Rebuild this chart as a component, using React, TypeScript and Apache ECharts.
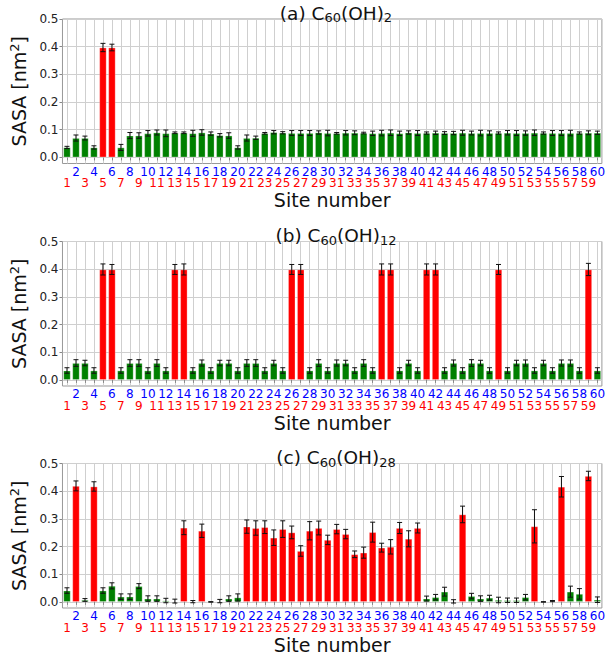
import React, { useEffect, useRef } from "react";
import * as echarts from "echarts";

// Site indices 1..60 for the fullerene carbon atoms
const sites: number[] = Array.from({ length: 60 }, (_, i) => i + 1);
const evenSites: number[] = sites.filter((s) => s % 2 === 0);
const oddSites: number[] = sites.filter((s) => s % 2 === 1);
const yTicks: number[] = [0, 0.1, 0.2, 0.3, 0.4, 0.5];

// (a) C60(OH)2
const sasaA: number[] = [
  0.036, 0.070, 0.070, 0.036, 0.397, 0.397, 0.036, 0.079, 0.079, 0.087,
  0.090, 0.087, 0.089, 0.089, 0.087, 0.090, 0.086, 0.080, 0.079, 0.036,
  0.070, 0.071, 0.087, 0.091, 0.089, 0.088, 0.088, 0.088, 0.090, 0.088,
  0.087, 0.089, 0.089, 0.088, 0.087, 0.088, 0.089, 0.087, 0.090, 0.088,
  0.088, 0.089, 0.088, 0.088, 0.089, 0.088, 0.088, 0.088, 0.088, 0.089,
  0.088, 0.088, 0.089, 0.088, 0.088, 0.088, 0.088, 0.088, 0.089, 0.089,
];
const errA: number[] = [
  0.004, 0.011, 0.007, 0.006, 0.015, 0.012, 0.011, 0.011, 0.010, 0.010,
  0.009, 0.012, 0.003, 0.003, 0.011, 0.010, 0.006, 0.006, 0.010, 0.006,
  0.011, 0.006, 0.003, 0.006, 0.004, 0.009, 0.009, 0.009, 0.006, 0.010,
  0.003, 0.008, 0.007, 0.003, 0.008, 0.010, 0.010, 0.008, 0.006, 0.009,
  0.004, 0.006, 0.005, 0.006, 0.009, 0.007, 0.010, 0.008, 0.004, 0.008,
  0.009, 0.008, 0.010, 0.004, 0.009, 0.009, 0.010, 0.004, 0.007, 0.006,
];
const ohSitesA: number[] = [5, 6];

// (b) C60(OH)12
const sasaB: number[] = [
  0.034, 0.061, 0.061, 0.034, 0.399, 0.399, 0.034, 0.061, 0.061, 0.034,
  0.061, 0.034, 0.399, 0.399, 0.034, 0.061, 0.034, 0.061, 0.061, 0.034,
  0.061, 0.061, 0.034, 0.061, 0.034, 0.399, 0.399, 0.034, 0.061, 0.034,
  0.061, 0.061, 0.034, 0.061, 0.034, 0.399, 0.399, 0.034, 0.061, 0.034,
  0.399, 0.399, 0.034, 0.061, 0.034, 0.061, 0.061, 0.034, 0.399, 0.034,
  0.061, 0.061, 0.034, 0.061, 0.034, 0.061, 0.061, 0.034, 0.399, 0.034,
];
const errB: number[] = [
  0.010, 0.012, 0.010, 0.010, 0.020, 0.018, 0.010, 0.012, 0.012, 0.010,
  0.012, 0.010, 0.018, 0.020, 0.010, 0.011, 0.010, 0.010, 0.010, 0.010,
  0.012, 0.012, 0.010, 0.010, 0.010, 0.018, 0.018, 0.010, 0.012, 0.010,
  0.011, 0.010, 0.010, 0.012, 0.010, 0.020, 0.020, 0.010, 0.010, 0.010,
  0.020, 0.020, 0.010, 0.011, 0.010, 0.012, 0.010, 0.010, 0.018, 0.010,
  0.010, 0.011, 0.010, 0.010, 0.010, 0.011, 0.011, 0.010, 0.022, 0.010,
];
const ohSitesB: number[] = [5, 6, 13, 14, 26, 27, 36, 37, 41, 42, 49, 59];

// (c) C60(OH)28
const sasaC: number[] = [
  0.041, 0.419, 0.007, 0.417, 0.041, 0.058, 0.019, 0.019, 0.057, 0.012,
  0.012, 0.005, 0.003, 0.268, 0.001, 0.257, 0.000, 0.003, 0.012, 0.016,
  0.272, 0.267, 0.270, 0.232, 0.263, 0.251, 0.184, 0.257, 0.267, 0.224,
  0.263, 0.245, 0.172, 0.178, 0.252, 0.196, 0.199, 0.267, 0.228, 0.267,
  0.012, 0.017, 0.037, 0.002, 0.316, 0.021, 0.012, 0.015, 0.007, 0.006,
  0.006, 0.017, 0.273, 0.000, 0.003, 0.416, 0.037, 0.029, 0.455, 0.008,
];
const errC: number[] = [
  0.010, 0.018, 0.005, 0.017, 0.010, 0.011, 0.010, 0.010, 0.009, 0.010,
  0.010, 0.008, 0.007, 0.025, 0.004, 0.024, 0.001, 0.006, 0.010, 0.013,
  0.024, 0.026, 0.023, 0.028, 0.030, 0.023, 0.019, 0.033, 0.025, 0.017,
  0.017, 0.017, 0.012, 0.020, 0.036, 0.016, 0.026, 0.020, 0.029, 0.018,
  0.009, 0.010, 0.016, 0.006, 0.030, 0.010, 0.010, 0.009, 0.010, 0.008,
  0.008, 0.010, 0.060, 0.001, 0.002, 0.037, 0.020, 0.019, 0.017, 0.010,
];
const ohSitesC: number[] = [
  2, 4, 14, 16, 21, 22, 23, 24, 25, 26, 27, 28, 29, 30, 31, 32, 33, 34, 35,
  36, 37, 38, 39, 40, 45, 53, 56, 59,
];

const panels = [
  { tag: "(a)", n: "2", sasa: sasaA, err: errA, oh: ohSitesA },
  { tag: "(b)", n: "12", sasa: sasaB, err: errB, oh: ohSitesB },
  { tag: "(c)", n: "28", sasa: sasaC, err: errC, oh: ohSitesC },
];

const FONT = "DejaVu Sans";
const RED = "#ff0000";
const BLUE = "#0000ff";
const GREEN = "#008000";
const GRID_TOPS = [19, 241.5, 463.5];
const GRID_H = 144.5;

export default function App() {
  const ref = useRef<HTMLDivElement>(null);

  useEffect(() => {
    document.body.style.margin = "0";
    if (!ref.current) return;
    const chart = echarts.init(ref.current, null, { renderer: "svg" });

    const grid: any[] = [];
    const xAxis: any[] = [];
    const yAxis: any[] = [];
    const series: any[] = [];
    const title: any[] = [];

    panels.forEach((p, k) => {
      grid.push({
        left: 57.5,
        right: 4,
        top: GRID_TOPS[k],
        height: GRID_H,
        show: true,
        borderColor: "#999",
        borderWidth: 1,
      });
      title.push({
        text: `${p.tag} C{s|60}(OH){s|${p.n}}`,
        left: 331,
        top: GRID_TOPS[k] - 22,
        textAlign: "center",
        textStyle: {
          fontFamily: FONT,
          fontSize: 18.5,
          fontWeight: "normal",
          color: "#111",
          rich: {
            s: {
              fontFamily: FONT,
              fontSize: 13,
              color: "#111",
              padding: [9, 0, 0, 0],
            },
          },
        },
      });
      // main x axis: ticks, vertical grid lines, even (blue) labels, axis name
      xAxis.push({
        type: "value",
        gridIndex: k,
        position: "bottom",
        min: 0.5,
        max: 60.5,
        name: "Site number",
        nameLocation: "middle",
        nameGap: 27,
        nameTextStyle: {
          fontFamily: FONT,
          fontSize: 19,
          color: "#111",
          verticalAlign: "top",
        },
        axisLine: { show: false },
        axisTick: {
          show: true,
          customValues: sites,
          length: 3,
          lineStyle: { color: "#888" },
        },
        splitLine: { show: true, lineStyle: { color: "#cfcfcf", width: 1 } },
        axisLabel: {
          customValues: evenSites,
          margin: 2,
          fontFamily: FONT,
          fontSize: 12,
          color: BLUE,
        },
      });
      // companion x axis carrying the odd (red) labels on a lower row
      xAxis.push({
        type: "value",
        gridIndex: k,
        position: "bottom",
        offset: 0,
        min: 0.5,
        max: 60.5,
        axisLine: { show: false },
        axisTick: { show: false, customValues: oddSites },
        splitLine: { show: false },
        axisLabel: {
          customValues: oddSites,
          margin: 13.5,
          fontFamily: FONT,
          fontSize: 12,
          color: RED,
        },
      });
      yAxis.push({
        type: "value",
        gridIndex: k,
        min: -0.022,
        max: 0.5,
        name: "SASA [nm{p|2}]",
        nameLocation: "middle",
        nameRotate: 90,
        nameGap: 18,
        nameTextStyle: {
          fontFamily: FONT,
          fontSize: 19,
          color: "#111",
          rich: {
            p: { fontFamily: FONT, fontSize: 13, color: "#111", padding: [0, 0, 9, 0] },
          },
        },
        axisLine: { show: false },
        axisTick: {
          show: true,
          customValues: yTicks,
          length: 3,
          lineStyle: { color: "#888" },
        },
        splitLine: { show: true, lineStyle: { color: "#cfcfcf", width: 1 } },
        axisLabel: {
          customValues: yTicks,
          margin: 4,
          fontFamily: FONT,
          fontSize: 12,
          color: "#222",
          formatter: (v: number) => v.toFixed(1),
        },
      });
      series.push({
        type: "bar",
        xAxisIndex: 2 * k,
        yAxisIndex: k,
        barWidth: 7.3,
        data: p.sasa.map((v, i) => ({
          value: [sites[i], v],
          itemStyle: {
            color: p.oh.includes(sites[i]) ? RED : GREEN,
            borderColor: "rgba(255,255,255,0.35)",
            borderWidth: 0.8,
          },
        })),
        z: 2,
      });
      series.push({
        type: "custom",
        xAxisIndex: 2 * k,
        yAxisIndex: k,
        encode: { x: 0, y: 1 },
        z: 3,
        data: p.sasa.map((v, i) => [sites[i], v, p.err[i]]),
        renderItem: (_params: any, api: any) => {
          const x = api.value(0);
          const y = api.value(1);
          const e = api.value(2);
          const hi = api.coord([x, y + e]);
          const lo = api.coord([x, y - e]);
          const cap = 2.5;
          const style = { stroke: "#111", lineWidth: 1 };
          return {
            type: "group",
            children: [
              { type: "line", shape: { x1: hi[0], y1: hi[1], x2: lo[0], y2: lo[1] }, style },
              { type: "line", shape: { x1: hi[0] - cap, y1: hi[1], x2: hi[0] + cap, y2: hi[1] }, style },
              { type: "line", shape: { x1: lo[0] - cap, y1: lo[1], x2: lo[0] + cap, y2: lo[1] }, style },
            ],
          };
        },
      });
    });

    chart.setOption({
      animation: false,
      backgroundColor: "#ffffff",
      title,
      grid,
      xAxis,
      yAxis,
      series,
    });

    return () => chart.dispose();
  }, []);

  return <div ref={ref} style={{ width: 608, height: 657 }} />;
}
